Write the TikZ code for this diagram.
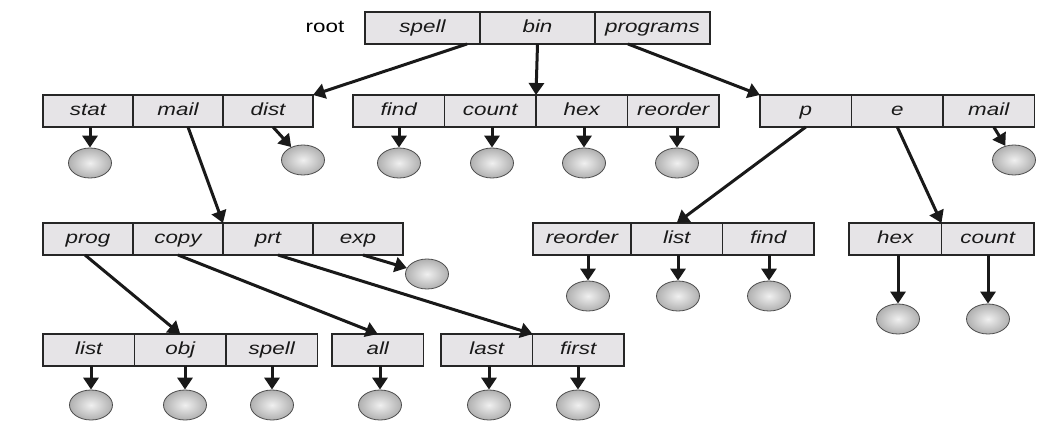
\documentclass[tikz,border=0pt]{standalone}
\usepackage{fontspec}
\usepackage{tikz}
\usetikzlibrary{positioning,arrows.meta,shapes.geometric}
\newfontfamily\helv[FakeStretch=1.28]{Liberation Sans}
\definecolor{cellgray}{RGB}{230,228,231}

\begin{document}
\begin{tikzpicture}[x=1pt,y=-1pt,>={Triangle[length=12pt,width=15pt]},
    cell/.style={draw=black!85,line width=1.6pt,fill=cellgray,minimum width=91.5pt,
        minimum height=32pt,inner sep=0pt,outer sep=0pt,text=black!90,
        text height=12.5pt,text depth=3.5pt,
        font=\helv\itshape\fontsize{17.5}{20}\selectfont},
    topcell/.style={cell,minimum width=115pt},
    file/.style={ellipse,draw=black!70,line width=0.8pt,inner color=gray!12,
        outer color=gray!62,minimum width=43pt,minimum height=30pt,inner sep=0pt},
    link/.style={->,line width=3pt,draw=black!90}]
    \path[use as bounding box] (0,0) rectangle (1054,442);

    \node[font=\helv\fontsize{17.5}{20}\selectfont] (root) at (325,27) {root};
    \node[topcell,anchor=north west] (rspell) at (365,12) {spell};
    \node[topcell,right=0pt of rspell] (rbin) {bin};
    \node[topcell,right=0pt of rbin] (rprograms) {programs};

    \node[cell,minimum width=90pt,anchor=north west] (stat) at (43,95) {stat};
    \node[cell,minimum width=90pt,right=0pt of stat] (mailA) {mail};
    \node[cell,minimum width=90pt,right=0pt of mailA] (dist) {dist};

    \node[cell,anchor=north west] (find1) at (353,95) {find};
    \node[cell,right=0pt of find1] (count1) {count};
    \node[cell,right=0pt of count1] (hex1) {hex};
    \node[cell,right=0pt of hex1] (reorder1) {reorder};

    \node[cell,anchor=north west] (p) at (760,95) {p};
    \node[cell,right=0pt of p] (e) {e};
    \node[cell,right=0pt of e] (mail2) {mail};

    \node[cell,minimum width=90pt,anchor=north west] (prog) at (43,223) {prog};
    \node[cell,minimum width=90pt,right=0pt of prog] (copy) {copy};
    \node[cell,minimum width=90pt,right=0pt of copy] (prt) {prt};
    \node[cell,minimum width=90pt,right=0pt of prt] (exp) {exp};

    \node[cell,minimum width=98pt,anchor=north west] (reorder2) at (533,223) {reorder};
    \node[cell,right=0pt of reorder2] (list2) {list};
    \node[cell,right=0pt of list2] (find2) {find};

    \node[cell,minimum width=92.5pt,anchor=north west] (hex2) at (849,223) {hex};
    \node[cell,minimum width=92.5pt,right=0pt of hex2] (count2) {count};

    \node[cell,anchor=north west] (list3) at (43,334) {list};
    \node[cell,right=0pt of list3] (obj) {obj};
    \node[cell,right=0pt of obj] (spell3) {spell};
    \node[cell,anchor=north west] (all) at (332,334) {all};
    \node[cell,anchor=north west] (last) at (441,334) {last};
    \node[cell,right=0pt of last] (first) {first};

    \draw[link] ([xshift=-13pt]rspell.south east) -- (dist.north east);
    \draw[link] (rbin.south) -- (count1.north east);
    \draw[link] ([xshift=33pt]rprograms.south west) -- (p.north west);
    \draw[link] ([xshift=10pt]mailA.south) -- (prt.north west);
    \draw[link] (p.south) -- (list2.north);
    \draw[link] (e.south) -- (hex2.north east);
    \draw[link] ([xshift=-3pt]prog.south) -- (obj.north);
    \draw[link] (copy.south) -- (all.north);
    \draw[link] ([xshift=10pt]prt.south) -- (last.north east);

    \foreach \n/\x/\y in {stat/90/163,find1/399/163,count1/492/163,hex1/584/163,
        reorder1/677/163,reorder2/588/296,list2/678/296,find2/769/296,
        hex2/898/319,count2/988/319,list3/91/405,obj/185/405,spell3/272/405,
        all/380/405,last/489/405,first/578/405} {
        \node[file] (f\n) at (\x,\y) {};
        \draw[link] (f\n.north |- \n.south) -- (f\n.north);
    }

    \node[file] (fdist) at (303,160) {};
    \node[file] (fmail2) at (1014,160) {};
    \node[file] (fexp) at (427,274) {};
    \draw[link] ([xshift=5pt]dist.south) -- (fdist);
    \draw[link] ([xshift=5pt]mail2.south) -- (fmail2);
    \draw[link] ([xshift=5pt]exp.south) -- (fexp);
\end{tikzpicture}
\end{document}
